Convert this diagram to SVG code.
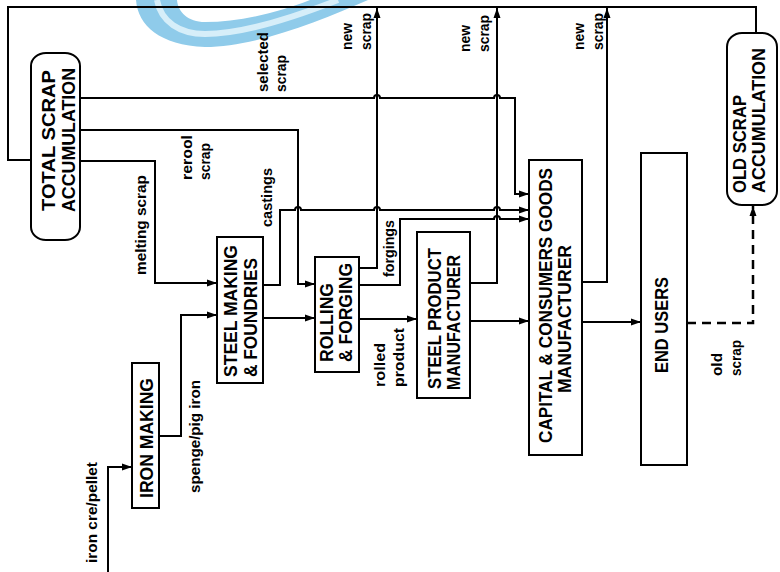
<svg xmlns="http://www.w3.org/2000/svg" width="780" height="572" viewBox="0 0 780 572">
<defs>
<marker id="ah" markerUnits="userSpaceOnUse" markerWidth="10" markerHeight="8" refX="10" refY="4" orient="auto">
<path d="M0,0.5 L10,4 L0,7.5 Z" fill="#000"/>
</marker>
</defs>
<style>
.bx{fill:#fff;stroke:#000;stroke-width:2}
.ln{fill:none;stroke:#000;stroke-width:2}
.ar{marker-end:url(#ah)}
.ds{stroke-dasharray:9 6;stroke-width:2.5}
.t{font-family:"Liberation Sans",Arial,sans-serif;font-weight:bold;font-size:18px;fill:#000}
.s{font-family:"Liberation Sans",Arial,sans-serif;font-weight:bold;font-size:15px;fill:#000}
</style>
<rect width="780" height="572" fill="#fff"/>
<g id="swoosh">
<path d="M136,0 C138,26 160,45 205,47 C255,47 320,21 368,0 L310,0 C280,12 240,22 205,22 C188,22 178,12 177,0 Z" fill="#8fcbea"/>
<path d="M157,0 C161,22 180,34 205,34 C245,34 300,15 338,0" fill="none" stroke="#d6eef9" stroke-width="6"/>
</g>
<g id="connectors">
<path class="ln" d="M31,160 H8 V7 H756 V33"/>
<path class="ln ar" d="M80,98 H374 a3,3 0 0 1 6,0 H494 a3,3 0 0 1 6,0 H515 V194 H529"/>
<path class="ln ar" d="M80,130 H298 V284 H315"/>
<path class="ln ar" d="M80,161 H155 V283 H217"/>
<path class="ln ar" d="M108,572 V467 H132"/>
<path class="ln ar" d="M159,436 H181 V315 H217"/>
<path class="ln ar" d="M263,318 H315"/>
<path class="ln ar" d="M263,285 H280 V210 H295 a3,3 0 0 1 6,0 H374 a3,3 0 0 1 6,0 H494 a3,3 0 0 1 6,0 H529"/>
<path class="ln ar" d="M359,285 H400 V219 H494 a3,3 0 0 1 6,0 H529"/>
<path class="ln ar" d="M359,268 H377 V8"/>
<path class="ln ar" d="M470,283 H497 V8"/>
<path class="ln ar" d="M582,282 H607 V8"/>
<path class="ln ar" d="M359,319 H417"/>
<path class="ln ar" d="M470,321 H529"/>
<path class="ln ar" d="M582,322 H641"/>
<path class="ln ds ar" d="M687,323 H753 V206"/>
</g>
<g id="labels">
<text class="s" transform="translate(268,92) rotate(-90)" textLength="60" lengthAdjust="spacingAndGlyphs">selected</text>
<text class="s" transform="translate(286,92) rotate(-90)" textLength="37" lengthAdjust="spacingAndGlyphs">scrap</text>
<text class="s" transform="translate(352,50) rotate(-90)" textLength="27" lengthAdjust="spacingAndGlyphs">new</text>
<text class="s" transform="translate(371,50) rotate(-90)" textLength="37" lengthAdjust="spacingAndGlyphs">scrap</text>
<text class="s" transform="translate(470,52) rotate(-90)" textLength="27" lengthAdjust="spacingAndGlyphs">new</text>
<text class="s" transform="translate(489,52) rotate(-90)" textLength="37" lengthAdjust="spacingAndGlyphs">scrap</text>
<text class="s" transform="translate(584,50) rotate(-90)" textLength="27" lengthAdjust="spacingAndGlyphs">new</text>
<text class="s" transform="translate(603,50) rotate(-90)" textLength="37" lengthAdjust="spacingAndGlyphs">scrap</text>
<text class="s" transform="translate(192,180) rotate(-90)" textLength="45" lengthAdjust="spacingAndGlyphs">rerool</text>
<text class="s" transform="translate(210,180) rotate(-90)" textLength="37" lengthAdjust="spacingAndGlyphs">scrap</text>
<text class="s" transform="translate(146,275) rotate(-90)" textLength="100" lengthAdjust="spacingAndGlyphs">melting scrap</text>
<text class="s" transform="translate(272,227) rotate(-90)" textLength="59" lengthAdjust="spacingAndGlyphs">castings</text>
<text class="s" transform="translate(394,277) rotate(-90)" textLength="57" lengthAdjust="spacingAndGlyphs">forgings</text>
<text class="s" transform="translate(385,387) rotate(-90)" textLength="44" lengthAdjust="spacingAndGlyphs">rolled</text>
<text class="s" transform="translate(404,387) rotate(-90)" textLength="59" lengthAdjust="spacingAndGlyphs">product</text>
<text class="s" transform="translate(200,493) rotate(-90)" textLength="113" lengthAdjust="spacingAndGlyphs">spenge/pig iron</text>
<text class="s" transform="translate(97,563) rotate(-90)" textLength="101" lengthAdjust="spacingAndGlyphs">iron cre/pellet</text>
<text class="s" transform="translate(722,376) rotate(-90)" textLength="23" lengthAdjust="spacingAndGlyphs">old</text>
<text class="s" transform="translate(741,376) rotate(-90)" textLength="36" lengthAdjust="spacingAndGlyphs">scrap</text>
</g>
<g id="total-scrap">
<rect class="bx" x="31" y="53" width="49" height="187" rx="15" ry="13"/>
<text class="t" transform="translate(55,211) rotate(-90)" textLength="141" lengthAdjust="spacingAndGlyphs">TOTAL SCRAP</text>
<text class="t" transform="translate(75,212) rotate(-90)" textLength="144" lengthAdjust="spacingAndGlyphs">ACCUMULATION</text>
</g>
<g id="old-scrap">
<rect class="bx" x="727" y="33" width="50" height="172" rx="15" ry="14"/>
<text class="t" transform="translate(746,193) rotate(-90)" textLength="98" lengthAdjust="spacingAndGlyphs">OLD SCRAP</text>
<text class="t" transform="translate(765,193) rotate(-90)" textLength="145" lengthAdjust="spacingAndGlyphs">ACCUMULATION</text>
</g>
<g id="iron-making">
<rect class="bx" x="132" y="363" width="27" height="145"/>
<text class="t" transform="translate(153,498) rotate(-90)" textLength="120" lengthAdjust="spacingAndGlyphs">IRON MAKING</text>
</g>
<g id="steel-making">
<rect class="bx" x="217" y="237" width="46" height="146"/>
<text class="t" transform="translate(237,377) rotate(-90)" textLength="132" lengthAdjust="spacingAndGlyphs">STEEL MAKING</text>
<text class="t" transform="translate(257,377) rotate(-90)" textLength="119" lengthAdjust="spacingAndGlyphs">&amp; FOUNDRIES</text>
</g>
<g id="rolling-forging">
<rect class="bx" x="315" y="257" width="44" height="115"/>
<text class="t" transform="translate(333,362) rotate(-90)" textLength="79" lengthAdjust="spacingAndGlyphs">ROLLING</text>
<text class="t" transform="translate(352,362) rotate(-90)" textLength="99" lengthAdjust="spacingAndGlyphs">&amp; FORGING</text>
</g>
<g id="steel-product">
<rect class="bx" x="417" y="232" width="53" height="166"/>
<text class="t" transform="translate(441,389) rotate(-90)" textLength="141" lengthAdjust="spacingAndGlyphs">STEEL PRODUCT</text>
<text class="t" transform="translate(460,390) rotate(-90)" textLength="135" lengthAdjust="spacingAndGlyphs">MANUFACTURER</text>
</g>
<g id="capital-consumers">
<rect class="bx" x="529" y="160" width="53" height="295"/>
<text class="t" transform="translate(552,443) rotate(-90)" textLength="275" lengthAdjust="spacingAndGlyphs">CAPITAL &amp; CONSUMERS GOODS</text>
<text class="t" transform="translate(571,393) rotate(-90)" textLength="148" lengthAdjust="spacingAndGlyphs">MANUFACTURER</text>
</g>
<g id="end-users">
<rect class="bx" x="641" y="153" width="46" height="312"/>
<text class="t" transform="translate(668,373) rotate(-90)" textLength="96" lengthAdjust="spacingAndGlyphs">END USERS</text>
</g>
</svg>
